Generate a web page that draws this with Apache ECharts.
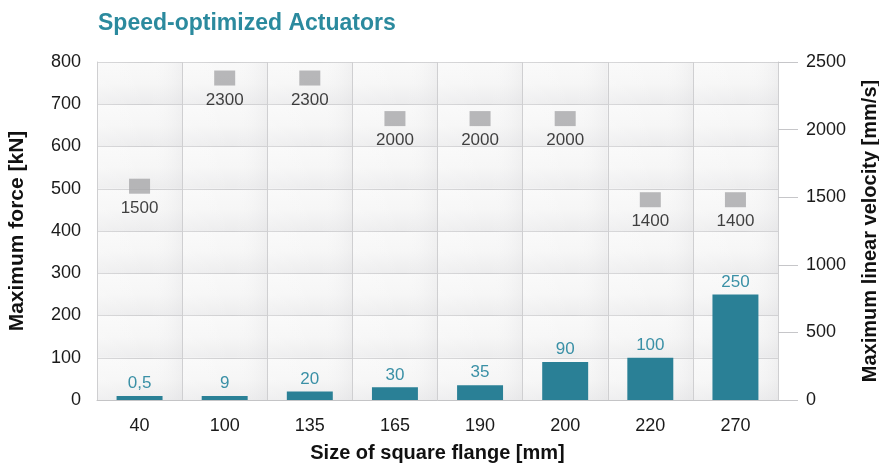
<!DOCTYPE html>
<html>
<head>
<meta charset="utf-8">
<script src="https://cdn.jsdelivr.net/npm/echarts@6/dist/echarts.min.js"></script>
<style>
  html, body { margin: 0; padding: 0; background: #fff; }
  #chart { width: 879px; height: 465px; }
</style>
</head>
<body>
<div id="chart"></div>
<script>
// flange sizes [mm]
const categories = ['40', '100', '135', '165', '190', '200', '220', '270'];
// max force [kN] (bars, left axis)
const forceValues = [0.5, 9, 20, 30, 35, 90, 100, 250];
// max linear velocity [mm/s] (squares, right axis)
const velocityValues = [1500, 2300, 2300, 2000, 2000, 2000, 1400, 1400];

const FONT = '"Liberation Sans", Arial, Helvetica, sans-serif';
const gridColor = '#cfcfd1';

const chart = echarts.init(document.getElementById('chart'));

const option = {
  backgroundColor: '#fff',
  animation: false,
  textStyle: { fontFamily: FONT },
  title: {
    text: 'Speed-optimized Actuators',
    left: 93,
    top: 7,
    textStyle: { color: '#2b8a9e', fontSize: 23, fontWeight: 'bold', fontFamily: FONT }
  },
  grid: { left: 97, right: 101, top: 62, bottom: 65, containLabel: false, outerBoundsMode: 'none' },
  xAxis: {
    type: 'category',
    data: categories,
    name: 'Size of square flange [mm]',
    nameLocation: 'middle',
    nameGap: 43,
    nameTextStyle: { color: '#111', fontSize: 20, fontWeight: 'bold' },
    axisLine: { show: true, lineStyle: { color: '#c4c4c6', width: 1 } },
    axisTick: { show: false },
    axisLabel: { color: '#1a1a1a', fontSize: 18, margin: 17 },
    splitLine: { show: true, lineStyle: { color: gridColor, width: 1 } },
    splitArea: {
      show: true,
      areaStyle: {
        color: [
          new echarts.graphic.LinearGradient(0, 0, 1, 0, [
            { offset: 0, color: 'rgba(255,255,255,0.2)' },
            { offset: 0.6, color: 'rgba(255,255,255,0)' },
            { offset: 1, color: 'rgba(215,215,218,0.25)' }
          ])
        ]
      }
    }
  },
  yAxis: [
    {
      type: 'value',
      min: 0,
      max: 800,
      interval: 100,
      name: 'Maximum force [kN]',
      nameLocation: 'middle',
      nameGap: 69,
      nameTextStyle: { color: '#111', fontSize: 21, fontWeight: 'bold' },
      axisLine: { show: true, lineStyle: { color: gridColor } },
      axisTick: { show: false },
      axisLabel: { color: '#1a1a1a', fontSize: 18, margin: 16 },
      splitLine: { show: true, lineStyle: { color: gridColor, width: 1 } },
      splitArea: {
        show: true,
        areaStyle: {
          color: [
            new echarts.graphic.LinearGradient(0, 0, 0, 1, [
              { offset: 0, color: '#f9f9f9' },
              { offset: 0.5, color: '#f6f6f6' },
              { offset: 1, color: '#ececed' }
            ])
          ]
        }
      }
    },
    {
      type: 'value',
      min: 0,
      max: 2500,
      interval: 500,
      position: 'right',
      name: 'Maximum linear velocity [mm/s]',
      nameLocation: 'middle',
      nameGap: 82,
      nameRotate: 90,
      nameTextStyle: { color: '#111', fontSize: 20, fontWeight: 'bold' },
      axisLine: { show: true, lineStyle: { color: gridColor } },
      axisTick: { show: true, inside: false, length: 20, lineStyle: { color: '#c6c6c9', width: 1 } },
      axisLabel: { color: '#1a1a1a', fontSize: 18, margin: 28, formatter: v => String(v) },
      splitLine: { show: false }
    }
  ],
  series: [
    {
      name: 'Maximum force',
      type: 'bar',
      data: forceValues,
      yAxisIndex: 0,
      barWidth: '54%',
      barMinHeight: 4,
      itemStyle: { color: '#2a8096' },
      label: {
        show: true,
        position: 'top',
        distance: 4,
        color: '#3a90a6',
        fontSize: 17,
        formatter: p => String(p.value).replace('.', ',')
      }
    },
    {
      name: 'Maximum linear velocity',
      type: 'scatter',
      data: velocityValues,
      yAxisIndex: 1,
      symbol: 'rect',
      symbolSize: [21, 15],
      symbolOffset: [0, -11],
      itemStyle: { color: '#a6a6a9' },
      label: {
        show: true,
        position: 'inside',
        offset: [0, 22],
        color: '#111',
        textBorderWidth: 0,
        fontSize: 17
      },
      z: 5
    }
  ]
};

chart.setOption(option);
</script>
</body>
</html>
